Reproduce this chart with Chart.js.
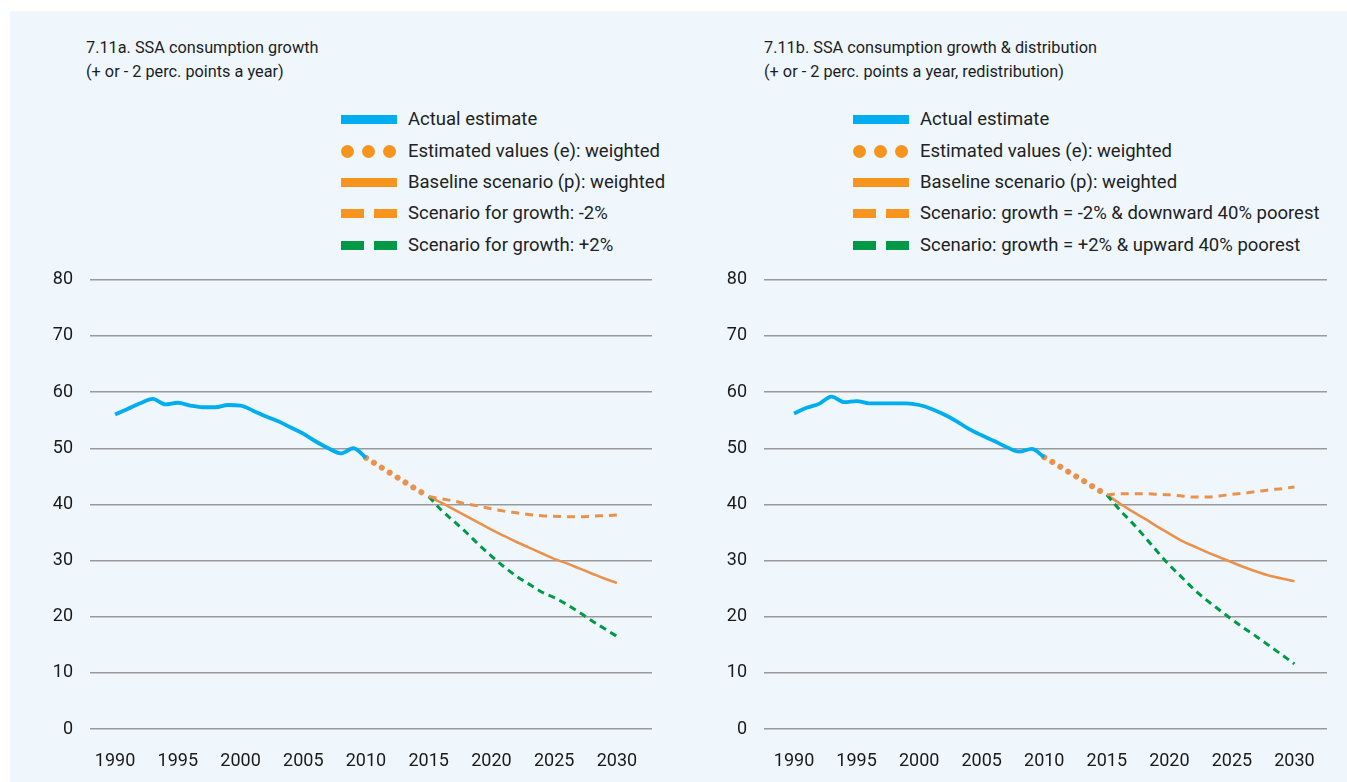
<!DOCTYPE html>
<html>
<head>
<meta charset="utf-8">
<script src="https://cdn.jsdelivr.net/npm/chart.js@4.4.1/dist/chart.umd.min.js"></script>
<style>
  body { margin: 0; background: #fff; width: 1347px; height: 782px; overflow: hidden; font-family: Roboto, sans-serif; }
  #panel { position: absolute; left: 10px; top: 11px; width: 1337px; height: 771px; background: #eff7fd; }
  .title { position: absolute; font-size: 16.3px; line-height: 24px; color: #1d1d1d; }
  .row { position: absolute; height: 22px; display: flex; align-items: center; font-size: 18.5px; color: #222; white-space: nowrap; }
  .sym { width: 56px; height: 13px; margin-right: 11px; position: relative; flex: none; }
  .sym span { position: absolute; }
  canvas { position: absolute; }
</style>
</head>
<body>
<div id="panel"></div>
<div class="title" style="left:86px;top:36px">7.11a. SSA consumption growth<br>(+ or - 2 perc. points a year)</div>
<div class="title" style="left:764px;top:36px">7.11b. SSA consumption growth &amp; distribution<br>(+ or - 2 perc. points a year, redistribution)</div>
<div id="legendA"></div>
<div id="legendB"></div>
<canvas id="chartA" width="650" height="530" style="left:20px;top:252px"></canvas>
<canvas id="chartB" width="650" height="530" style="left:694px;top:252px"></canvas>
<script>
// years
var actualYears = [1990, 1991, 1992, 1993, 1994, 1995, 1996, 1997, 1998, 1999, 2000, 2001, 2002, 2003, 2004, 2005, 2006, 2007, 2008, 2009, 2010];
var estYears = [2010, 2011, 2012, 2013, 2014, 2015];
var projYears = [2015, 2016, 2017, 2018, 2019, 2020, 2021, 2022, 2023, 2024, 2025, 2026, 2027, 2028, 2029, 2030];
var xTicks = [1990, 1995, 2000, 2005, 2010, 2015, 2020, 2025, 2030];

// 7.11a
var actualA = [56.0, 57.0, 58.0, 58.8, 57.8, 58.1, 57.6, 57.3, 57.3, 57.7, 57.6, 56.7, 55.7, 54.8, 53.7, 52.6, 51.2, 50.0, 49.1, 50.0, 48.3];
var estA = [48.3, 46.9, 45.5, 44.1, 42.7, 41.4];
var baseA = [41.4, 40.3, 39.1, 37.9, 36.7, 35.5, 34.4, 33.3, 32.3, 31.3, 30.3, 29.5, 28.6, 27.7, 26.8, 26.0];
var lowA = [41.4, 41.0, 40.6, 40.1, 39.7, 39.2, 38.8, 38.5, 38.2, 38.0, 37.9, 37.8, 37.8, 37.9, 38.0, 38.1];
var highA = [41.4, 39.0, 37.0, 35.0, 32.8, 30.8, 28.9, 27.2, 25.8, 24.4, 23.4, 22.2, 20.8, 19.3, 17.9, 16.5];

// 7.11b
var actualB = [56.2, 57.2, 57.9, 59.2, 58.2, 58.4, 58.0, 58.0, 58.0, 58.0, 57.7, 57.0, 56.0, 54.8, 53.4, 52.3, 51.3, 50.2, 49.4, 49.9, 48.4];
var estB = [48.4, 47.1, 45.7, 44.4, 43.0, 41.7];
var baseB = [41.7, 40.2, 38.8, 37.5, 36.1, 34.8, 33.5, 32.5, 31.5, 30.6, 29.7, 28.8, 28.0, 27.3, 26.8, 26.3];
var lowB = [41.7, 41.9, 41.9, 41.9, 41.8, 41.7, 41.5, 41.3, 41.3, 41.5, 41.8, 42.0, 42.3, 42.6, 42.8, 43.1];
var highB = [41.7, 39.1, 36.8, 34.3, 31.7, 29.2, 27.0, 24.8, 22.9, 21.2, 19.5, 17.9, 16.4, 14.8, 13.2, 11.6];

var labelsA = ["Actual estimate", "Estimated values (e): weighted", "Baseline scenario (p): weighted", "Scenario for growth: -2%", "Scenario for growth: +2%"];
var labelsB = ["Actual estimate", "Estimated values (e): weighted", "Baseline scenario (p): weighted", "Scenario: growth = -2% & downward 40% poorest", "Scenario: growth = +2% & upward 40% poorest"];

var BLUE = '#00aeef', ORANGE = '#f7941d', LINE_ORANGE = '#ea914c', GREEN = '#009a47';

function pts(xs, ys) {
  return xs.map(function(x, i) { return { x: x, y: ys[i] }; });
}

function legend(id, left, labels) {
  var syms = [
    '<span style="left:0;top:2px;width:56px;height:9px;background:' + BLUE + '"></span>',
    '<span style="left:0;top:0;width:13px;height:13px;border-radius:50%;background:' + ORANGE + '"></span>' +
    '<span style="left:21px;top:0;width:13px;height:13px;border-radius:50%;background:' + ORANGE + '"></span>' +
    '<span style="left:42px;top:0;width:13px;height:13px;border-radius:50%;background:' + ORANGE + '"></span>',
    '<span style="left:0;top:2px;width:56px;height:9px;background:' + ORANGE + '"></span>',
    '<span style="left:0;top:2px;width:23px;height:9px;background:' + ORANGE + '"></span>' +
    '<span style="left:33px;top:2px;width:23px;height:9px;background:' + ORANGE + '"></span>',
    '<span style="left:0;top:2px;width:23px;height:9px;background:' + GREEN + '"></span>' +
    '<span style="left:33px;top:2px;width:23px;height:9px;background:' + GREEN + '"></span>'
  ];
  var rowY = [119, 151, 182, 213, 245];
  var html = '';
  labels.forEach(function(t, i) {
    html += '<div class="row" style="left:' + left + 'px;top:' + (rowY[i] - 11) + 'px"><div class="sym">' + syms[i] + '</div><span></span></div>';
  });
  var el = document.getElementById(id);
  el.innerHTML = html;
  el.querySelectorAll('.row > span').forEach(function(s, i) { s.textContent = labels[i]; });
}

legend('legendA', 341, labelsA);
legend('legendB', 853, labelsB);

var tickFont = { family: 'Roboto, sans-serif', size: 18 };

function makeChart(id, xmin, xmax, padRight, actual, est, base, low, high) {
  return new Chart(document.getElementById(id), {
    type: 'line',
    data: {
      datasets: [
        { data: pts(actualYears, actual), borderColor: BLUE, borderWidth: 3.8, cubicInterpolationMode: 'monotone' },
        { data: pts(estYears, est), borderColor: LINE_ORANGE, borderWidth: 6, borderDash: [0.01, 9.3], borderCapStyle: 'round' },
        { data: pts(projYears, low), borderColor: LINE_ORANGE, borderWidth: 3, borderDash: [8, 6], cubicInterpolationMode: 'monotone' },
        { data: pts(projYears, high), borderColor: GREEN, borderWidth: 3, borderDash: [7, 5], cubicInterpolationMode: 'monotone' },
        { data: pts(projYears, base), borderColor: LINE_ORANGE, borderWidth: 2.6, cubicInterpolationMode: 'monotone' }
      ]
    },
    options: {
      responsive: false,
      animation: false,
      layout: { padding: { top: 11, right: padRight, bottom: 0, left: 0 } },
      elements: { point: { radius: 0 } },
      plugins: { legend: { display: false }, tooltip: { enabled: false } },
      scales: {
        x: {
          type: 'linear', min: xmin, max: xmax,
          grid: { display: false }, border: { display: false },
          afterBuildTicks: function(s) { s.ticks = xTicks.map(function(v) { return { value: v }; }); },
          afterFit: function(s) { s.height = 53; },
          ticks: { font: tickFont, color: '#1a1a1a', padding: 14, maxRotation: 0, autoSkip: false, callback: function(v) { return String(v); } }
        },
        y: {
          min: 0, max: 80,
          grid: { color: '#9a9a9a', lineWidth: 1.4, drawTicks: false }, border: { display: false },
          afterFit: function(s) { s.width = 70; },
          ticks: { stepSize: 10, font: tickFont, color: '#1a1a1a', padding: 17 }
        }
      }
    }
  });
}

makeChart('chartA', 1988.0, 2032.8, 18, actualA, estA, baseA, lowA, highA);
makeChart('chartB', 1987.6, 2032.6, 17, actualB, estB, baseB, lowB, highB);
</script>
</body>
</html>
